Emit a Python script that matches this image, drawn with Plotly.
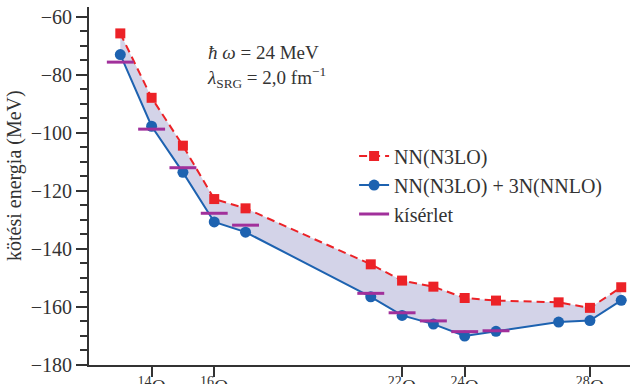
import plotly.graph_objects as go

# mass numbers of oxygen isotopes
A_calc = [13, 14, 15, 16, 17, 21, 22, 23, 24, 25, 27, 28, 29]
E_nn = [-65.7, -87.9, -104.4, -122.8, -126.0, -145.3, -150.9, -153.0, -156.9, -157.8, -158.4, -160.3, -153.2]
E_nn3n = [-73.0, -97.7, -113.6, -130.7, -134.2, -156.5, -162.9, -165.9, -170.0, -168.4, -165.2, -164.7, -157.7]

A_exp = [13, 14, 15, 16, 17, 21, 22, 23, 24, 25]
E_exp = [-75.6, -98.7, -112.0, -127.7, -131.8, -155.3, -162.0, -164.8, -168.5, -168.2]

tick_vals = [14, 16, 22, 24, 28]
tick_text = ["<sup>14</sup>O", "<sup>16</sup>O", "<sup>22</sup>O", "<sup>24</sup>O", "<sup>28</sup>O"]

FONT = "Liberation Serif"
RED = "#ec2227"
BLUE = "#1d62b0"
PURPLE = "#a1309b"
FILL = "#d3d3e8"
AXC = "#333333"

fig = go.Figure()

# shaded band between the two calculations
fig.add_trace(go.Scatter(
    x=A_calc + A_calc[::-1], y=E_nn + E_nn3n[::-1],
    fill="toself", fillcolor=FILL, line=dict(width=0), mode="lines",
    hoverinfo="skip", showlegend=False))

# experiment: short horizontal bars
half = 0.43
bx, by = [], []
for a, e in zip(A_exp, E_exp):
    bx += [a - half, a + half, None]
    by += [e, e, None]

fig.add_trace(go.Scatter(
    x=A_calc, y=E_nn, mode="lines+markers", name="NN(N3LO)",
    line=dict(color=RED, width=2, dash="8px,5px"),
    marker=dict(symbol="square", size=10, color=RED)))

fig.add_trace(go.Scatter(
    x=A_calc, y=E_nn3n, mode="lines+markers", name="NN(N3LO) + 3N(NNLO)",
    line=dict(color=BLUE, width=2),
    marker=dict(symbol="circle", size=11, color=BLUE)))

fig.add_trace(go.Scatter(
    x=bx, y=by, mode="lines", name="kísérlet",
    line=dict(color=PURPLE, width=3)))

fig.add_annotation(
    x=0.214, y=0.908, xref="paper", yref="paper", xanchor="left", yanchor="top",
    align="left", showarrow=False,
    text="<i>ħ ω</i> = 24 MeV<br><i>λ</i><sub>SRG</sub> = 2,0 fm<sup>−1</sup>",
    font=dict(family=FONT, size=19, color="#333333"))

# y-axis title as a rotated annotation (placed like the reference)
fig.add_annotation(
    x=(15 - 89) / 541, y=0.528, xref="paper", yref="paper",
    xanchor="center", yanchor="middle",
    text="kötési energia (MeV)", textangle=-90, showarrow=False,
    font=dict(family=FONT, size=20, color="#333333"))

fig.update_layout(
    width=630, height=384,
    margin=dict(l=89, r=0, t=7, b=19),
    paper_bgcolor="white", plot_bgcolor="white",
    font=dict(family=FONT, size=20, color="#333333"),
    legend=dict(x=0.49, y=0.638, xanchor="left", yanchor="top",
                font=dict(family=FONT, size=20, color="#333333"),
                bgcolor="rgba(0,0,0,0)", tracegroupgap=0, itemwidth=30),
    xaxis=dict(range=[12, 29.28], tickvals=tick_vals, ticktext=tick_text, automargin=False,
               showgrid=False, zeroline=False, showline=True, linecolor=AXC, linewidth=2,
               ticks="outside", ticklen=10, tickwidth=2, tickcolor=AXC, ticklabelstandoff=-7,
               tickfont=dict(family=FONT, size=20)),
    yaxis=dict(range=[-180, -56.6], tickvals=[-180, -160, -140, -120, -100, -80, -60],
               ticktext=["−180", "−160", "−140", "−120", "−100", "−80", "−60"], automargin=False,
               showgrid=False, zeroline=False, showline=True, linecolor=AXC, linewidth=2,
               ticks="outside", ticklen=11, tickwidth=2, tickcolor=AXC,
               minor=dict(dtick=5, tick0=-180, ticks="outside", ticklen=7, tickwidth=1.5, tickcolor=AXC),
               tickfont=dict(family=FONT, size=20)),
)

fig.write_html("out.html")
